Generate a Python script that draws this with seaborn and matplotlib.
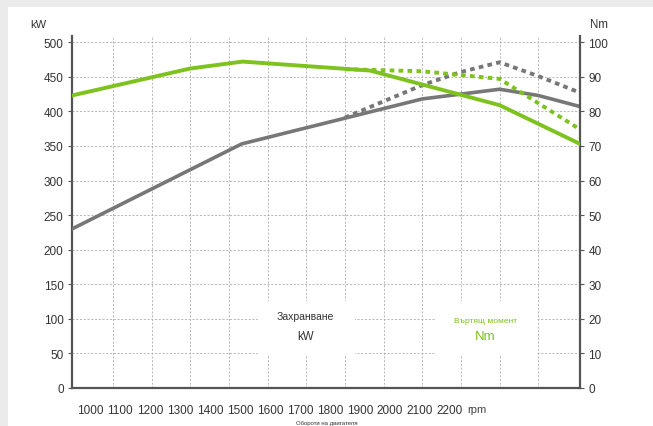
import matplotlib
matplotlib.use("Agg")
import matplotlib.pyplot as plt
from matplotlib.patches import Rectangle
import seaborn as sns
import pandas as pd

# x positions are in grid-cell units (vertical gridlines sit at 1..12)
x_lim = (-0.06, 13.08)

# power curves, kW (left axis)
power_x = [-0.06, 4.33, 9, 11, 12, 13.08]
power_kw = [230, 353, 418, 432, 423, 407]
power2_x = [7, 9, 10, 11, 12, 13.08]
power2_kw = [391, 438, 457, 471, 451, 427]

# torque curves, Nm (right axis)
torque_x = [-0.06, 3, 4.35, 7.65, 11, 13.08]
torque_nm = [84.6, 92.4, 94.4, 91.8, 81.8, 70.6]
torque2_x = [7, 9, 11, 13.08]
torque2_nm = [92.2, 91.6, 89.4, 74.8]

kw_ticks = [0, 50, 100, 150, 200, 250, 300, 350, 400, 450, 500]
nm_ticks = [0, 10, 20, 30, 40, 50, 60, 70, 80, 90, 100]
rpm_labels = [1000, 1100, 1200, 1300, 1400, 1500, 1600, 1700, 1800, 1900, 2000, 2100, 2200]

GREEN = "#7dc21e"
GRAY = "#777777"
TXT = "#333333"
AX = "#555555"

sns.set_theme(style="white")
plt.rcParams["font.family"] = ["Liberation Sans", "DejaVu Sans"]

fig = plt.figure(figsize=(6.53, 4.27), dpi=100, facecolor="#ebebeb")
bg = fig.add_axes([8 / 653, 0, 1, (427 - 8) / 427], zorder=-10)
bg.set_facecolor("white")
bg.axis("off")
bg.add_patch(Rectangle((0, 0), 1, 1, transform=bg.transAxes, facecolor="white", edgecolor="none"))

ax = fig.add_axes([72 / 653, 38 / 427, 508 / 653, 352 / 427])
ax.set_facecolor("none")
ax2 = ax.twinx()

df_p = pd.DataFrame({"x": power_x, "y": power_kw})
df_p2 = pd.DataFrame({"x": power2_x, "y": power2_kw})
df_t = pd.DataFrame({"x": torque_x, "y": torque_nm})
df_t2 = pd.DataFrame({"x": torque2_x, "y": torque2_nm})

dots = (0, (1.2, 1.1))
sns.lineplot(data=df_p, x="x", y="y", ax=ax, color=GRAY, linewidth=2.6, zorder=4)
sns.lineplot(data=df_p2, x="x", y="y", ax=ax, color=GRAY, linewidth=2.8,
             linestyle=dots, zorder=4)
sns.lineplot(data=df_t, x="x", y="y", ax=ax2, color=GREEN, linewidth=2.8, zorder=4)
sns.lineplot(data=df_t2, x="x", y="y", ax=ax2, color=GREEN, linewidth=2.8,
             linestyle=dots, zorder=4)

ax.set_xlim(*x_lim)
ax.set_ylim(0, 509)
ax2.set_ylim(0, 509 / 5)

# gridlines on minor x ticks, labels on major
ax.set_xticks(range(1, 13), minor=True)
lab_pos = [0.405 + (r - 1000) / 100 * 0.776 for r in rpm_labels]
ax.set_xticks(lab_pos)
ax.set_xticklabels([str(r) for r in rpm_labels])
ax.tick_params(axis="x", which="major", length=0, pad=11.5, labelsize=8.5, labelcolor=TXT)
ax.tick_params(axis="x", which="minor", length=3, width=0.8, color="#999999", direction="out")

ax.set_yticks(kw_ticks)
ax.set_yticklabels([str(v) for v in kw_ticks])
ax.tick_params(axis="y", length=3, width=0.8, color=AX, direction="out", pad=3,
               labelsize=8.5, labelcolor=TXT)
ax2.set_yticks(nm_ticks)
ax2.set_yticklabels([str(v) for v in nm_ticks])
ax2.tick_params(axis="y", length=3, width=0.8, color=AX, direction="out", pad=3,
                labelsize=8.5, labelcolor=TXT)

grid_kw = dict(color="#adadad", linewidth=0.6, linestyle=(0, (2.5, 2)))
ax.grid(False)
ax2.grid(False)
ax.grid(True, axis="x", which="minor", **grid_kw)
ax.grid(True, axis="y", which="major", **grid_kw)

for a in (ax, ax2):
    a.spines["top"].set_visible(False)
    a.set_xlabel("")
    a.set_ylabel("")
ax.spines["right"].set_visible(False)
ax2.spines["left"].set_visible(False)
ax2.spines["bottom"].set_visible(False)
for s in (ax.spines["left"], ax.spines["bottom"], ax2.spines["right"]):
    s.set_color(AX)
    s.set_linewidth(1.6)

# white label boxes that break the grid
ax.add_patch(Rectangle((4.75, 48), 2.51, 78, facecolor="white", edgecolor="none", zorder=2))
ax.add_patch(Rectangle((9.36, 48), 2.61, 78, facecolor="white", edgecolor="none", zorder=2))
ax.text(5.97, 104, "Захранване", ha="center", va="center", fontsize=7.5, color=TXT, zorder=3)
ax.text(5.97, 75, "kW", ha="center", va="center", fontsize=8.3, color=TXT, zorder=3)
ax.text(10.64, 98, "Въртящ момент", ha="center", va="center", fontsize=6, color=GREEN, zorder=3)
ax.text(10.64, 75, "Nm", ha="center", va="center", fontsize=9.5, color=GREEN, zorder=3)

ax.text(-0.05, 1.035, "kW", transform=ax.transAxes, ha="right", va="center", fontsize=8, color=TXT)
ax.text(1.02, 1.035, "Nm", transform=ax.transAxes, ha="left", va="center", fontsize=8.3, color=TXT)
ax.text(0.778, -0.06, "rpm", transform=ax.transAxes, ha="left", va="center", fontsize=8, color="#444444")
ax.text(0.502, -0.097, "Обороти на двигателя", transform=ax.transAxes, ha="center", va="center",
        fontsize=4.3, color=TXT)

fig.savefig("out.png", dpi=100, facecolor=fig.get_facecolor())
